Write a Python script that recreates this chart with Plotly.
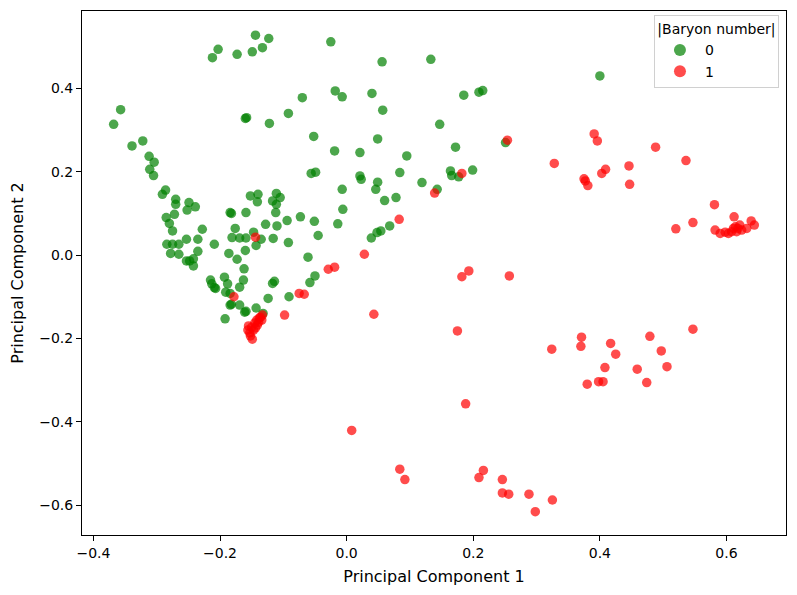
import plotly.graph_objects as go

# |Baryon number| = 0
pc1_b0 = [-0.144, -0.123, -0.203, -0.212, -0.173, -0.149, -0.133, -0.025,
          -0.357, -0.368, -0.339, -0.322, -0.312, -0.304, -0.311, -0.305,
          -0.160, -0.158, -0.122, -0.092, -0.070, -0.018, -0.007, -0.052,
          -0.019, -0.056, -0.049, -0.291, -0.286, -0.270, -0.270, -0.249,
          -0.239, -0.252, -0.152, -0.140, -0.141, -0.117, -0.111, -0.105,
          -0.111, -0.007, -0.006, -0.285, -0.272, -0.280, -0.275, -0.228,
          -0.184, -0.182, -0.159, -0.112, -0.128, -0.110, -0.094, -0.073,
          -0.051, -0.014, -0.045, -0.176, -0.181, -0.169, -0.159, -0.147,
          -0.135, -0.116, -0.092, -0.284, -0.275, -0.265, -0.253, -0.235,
          -0.209, -0.278, -0.265, -0.235, -0.143, -0.160, -0.186, -0.173,
          -0.253, -0.248, -0.242, -0.242, -0.061, -0.162, -0.215, -0.213,
          -0.209, -0.207, -0.193, -0.188, -0.191, -0.163, -0.169, -0.184,
          -0.184, -0.182, -0.169, -0.161, -0.159, -0.117, -0.114, -0.050,
          -0.058, -0.124, -0.091, -0.192, -0.143, -0.132,
          0.056, 0.133, 0.040, 0.057, 0.185, 0.209, 0.215, 0.147,
          0.049, 0.021, 0.095, 0.172, 0.251, 0.021, 0.023, 0.049,
          0.046, 0.084, 0.119, 0.164, 0.166, 0.177, 0.199, 0.143,
          0.060, 0.078, 0.039, 0.048, 0.054, 0.068, 0.400]
pc2_b0 = [0.528, 0.520, 0.494, 0.474, 0.482, 0.488, 0.498, 0.512,
          0.349, 0.314, 0.262, 0.274, 0.237, 0.223, 0.206, 0.191,
          0.328, 0.330, 0.316, 0.340, 0.378, 0.394, 0.380, 0.285,
          0.250, 0.196, 0.199, 0.146, 0.156, 0.134, 0.122, 0.126,
          0.116, 0.108, 0.142, 0.146, 0.128, 0.130, 0.148, 0.138,
          0.122, 0.158, 0.110, 0.090, 0.098, 0.076, 0.058, 0.062,
          0.102, 0.100, 0.102, 0.102, 0.074, 0.070, 0.083, 0.092,
          0.081, 0.075, 0.047, 0.064, 0.042, 0.041, 0.041, 0.055,
          0.038, 0.040, 0.030, 0.026, 0.026, 0.026, 0.038, 0.038,
          0.026, 0.004, 0.002, 0.009, 0.023, 0.011, 0.004, -0.010,
          -0.014, -0.014, -0.009, -0.026, -0.005, -0.033, -0.060, -0.069,
          -0.078, -0.080, -0.053, -0.069, -0.089, -0.060, -0.077, -0.092,
          -0.120, -0.118, -0.120, -0.137, -0.135, -0.068, -0.063, -0.050,
          -0.066, -0.104, -0.100, -0.153, -0.127, -0.140,
          0.464, 0.470, 0.388, 0.348, 0.384, 0.391, 0.395, 0.314,
          0.279, 0.246, 0.238, 0.259, 0.270, 0.190, 0.182, 0.175,
          0.158, 0.198, 0.174, 0.202, 0.191, 0.188, 0.204, 0.158,
          0.131, 0.138, 0.041, 0.054, 0.058, 0.070, 0.430]

# |Baryon number| = 1
pc1_b1 = [-0.144, -0.178,
          -0.133, -0.138, -0.142, -0.145, -0.141, -0.150, -0.147, -0.153,
          -0.144, -0.134, -0.156, -0.152, -0.149, -0.139, -0.136, -0.155,
          -0.098, -0.075, -0.067, -0.029, -0.019, 0.028, 0.043, 0.083,
          0.139, 0.182, 0.254, 0.182, 0.193, 0.257, 0.175, 0.188,
          0.008, 0.084, 0.092, 0.216, 0.209, 0.246, 0.246, 0.256,
          0.288, 0.298, 0.325,
          0.391, 0.396, 0.328, 0.488, 0.536, 0.375, 0.377, 0.381,
          0.403, 0.409, 0.446, 0.447, 0.581, 0.520, 0.547, 0.612,
          0.582, 0.590, 0.603, 0.611, 0.616, 0.621, 0.632, 0.639,
          0.644, 0.608, 0.618, 0.614, 0.598, 0.624,
          0.547, 0.371, 0.370, 0.324, 0.417, 0.479, 0.425, 0.497,
          0.408, 0.459, 0.506, 0.380, 0.398, 0.405, 0.474]
pc2_b1 = [0.043, -0.100,
          -0.144, -0.151, -0.156, -0.163, -0.168, -0.173, -0.180, -0.187,
          -0.175, -0.156, -0.180, -0.194, -0.202, -0.161, -0.149, -0.170,
          -0.144, -0.092, -0.094, -0.034, -0.029, 0.002, -0.142, 0.086,
          0.149, 0.196, 0.276, -0.052, -0.038, -0.050, -0.182, -0.357,
          -0.421, -0.514, -0.539, -0.517, -0.534, -0.539, -0.571, -0.574,
          -0.574, -0.616, -0.588,
          0.291, 0.274, 0.220, 0.259, 0.227, 0.183, 0.178, 0.167,
          0.196, 0.206, 0.214, 0.170, 0.121, 0.063, 0.078, 0.092,
          0.060, 0.052, 0.052, 0.064, 0.056, 0.072, 0.064, 0.082,
          0.072, 0.056, 0.064, 0.068, 0.055, 0.060,
          -0.178, -0.197, -0.219, -0.226, -0.212, -0.195, -0.238, -0.230,
          -0.270, -0.274, -0.268, -0.310, -0.304, -0.304, -0.306]

x_ticks = [-0.4, -0.2, 0.0, 0.2, 0.4, 0.6]
x_tick_labels = ["\u22120.4", "\u22120.2", "0.0", "0.2", "0.4", "0.6"]
y_ticks = [-0.6, -0.4, -0.2, 0.0, 0.2, 0.4]
y_tick_labels = ["\u22120.6", "\u22120.4", "\u22120.2", "0.0", "0.2", "0.4"]

FONT = "DejaVu Sans, Liberation Sans, sans-serif"

fig = go.Figure()
fig.add_trace(go.Scatter(
    x=pc1_b0, y=pc2_b0, mode="markers", name="0",
    marker=dict(color="green", size=9.5, opacity=0.7, line=dict(width=0)),
))
fig.add_trace(go.Scatter(
    x=pc1_b1, y=pc2_b1, mode="markers", name="1",
    marker=dict(color="red", size=9.5, opacity=0.7, line=dict(width=0)),
))

axis_common = dict(
    showgrid=False, zeroline=False, showline=True, linecolor="black",
    linewidth=1, mirror=True, ticks="outside", ticklen=5, tickwidth=1,
    tickcolor="black", tickfont=dict(family=FONT, size=14, color="black"),
)

fig.update_layout(
    width=797, height=595,
    margin=dict(l=74, r=19, t=3, b=68),
    paper_bgcolor="white", plot_bgcolor="white",
    font=dict(family=FONT, color="black"),
    showlegend=True,
    legend=dict(
        title=dict(text="|Baryon number|", side="top center",
                   font=dict(family=FONT, size=14, color="black")),
        font=dict(family=FONT, size=14, color="black"),
        x=0.990, y=0.992, xanchor="right", yanchor="top",
        bgcolor="rgba(255,255,255,0.8)", bordercolor="#d0d0d0", borderwidth=1,
        itemsizing="constant", itemwidth=40, tracegroupgap=0,
    ),
    xaxis=dict(
        range=[-0.418, 0.694], tickvals=x_ticks, ticktext=x_tick_labels,
        title=dict(text="Principal Component 1", font=dict(family=FONT, size=16),
                   standoff=11),
        **axis_common,
    ),
    yaxis=dict(
        range=[-0.672, 0.586], tickvals=y_ticks, ticktext=y_tick_labels,
        title=dict(text="Principal Component 2", font=dict(family=FONT, size=16),
                   standoff=12),
        **axis_common,
    ),
)

fig.write_html("out.html")
